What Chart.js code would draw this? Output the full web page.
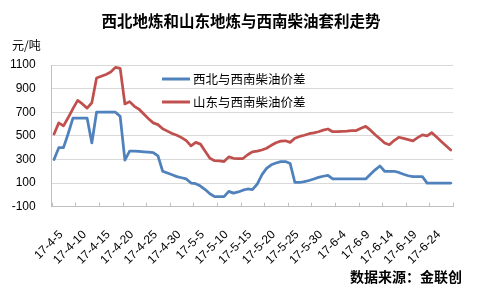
<!DOCTYPE html>
<html><head><meta charset="utf-8">
<script src="https://cdn.jsdelivr.net/npm/chart.js@4"></script>
<style>html,body{margin:0;padding:0;background:#fff}#wrap{width:482px;height:290px}</style>
</head><body><div id="wrap"><canvas id="c" width="482" height="290"></canvas></div>
<script>
const categories = [
 '17-4-5','17-4-6','17-4-7','17-4-8','17-4-9','17-4-10','17-4-11','17-4-12','17-4-13','17-4-14',
 '17-4-15','17-4-16','17-4-17','17-4-18','17-4-19','17-4-20','17-4-21','17-4-22','17-4-23','17-4-24',
 '17-4-25','17-4-26','17-4-27','17-4-28','17-4-29','17-4-30',
 '17-5-1','17-5-2','17-5-3','17-5-4','17-5-5','17-5-6','17-5-7','17-5-8','17-5-9','17-5-10',
 '17-5-11','17-5-12','17-5-13','17-5-14','17-5-15','17-5-16','17-5-17','17-5-18','17-5-19','17-5-20',
 '17-5-21','17-5-22','17-5-23','17-5-24','17-5-25','17-5-26','17-5-27','17-5-28','17-5-29','17-5-30','17-5-31',
 '17-6-1','17-6-2','17-6-3','17-6-4','17-6-5','17-6-6','17-6-7','17-6-8','17-6-9','17-6-10',
 '17-6-11','17-6-12','17-6-13','17-6-14','17-6-15','17-6-16','17-6-17','17-6-18','17-6-19','17-6-20',
 '17-6-21','17-6-22','17-6-23','17-6-24','17-6-25','17-6-26','17-6-27','17-6-28'
];
const seriesNames = ['西北与西南柴油价差', '山东与西南柴油价差'];
const xibei = [
 300,400,400,520,650,650,650,650,440,700,
 700,700,700,700,665,295,370,370,368,365,
 362,358,330,200,185,170,155,145,135,100,
 95,75,45,10,-15,-15,-15,30,15,25,
 40,50,45,90,170,225,255,270,282,282,
 265,105,105,112,122,135,148,158,165,135,
 135,135,135,135,135,135,135,175,212,245,
 200,200,200,190,175,162,155,155,155,100,
 100,100,100,100,100
];
const shandong = [
 515,610,585,655,730,800,770,735,780,990,
 1005,1020,1040,1080,1072,770,790,750,725,685,
 645,610,595,560,540,520,505,485,460,415,
 445,430,370,310,290,288,282,322,310,308,
 308,340,365,370,380,395,420,442,455,458,
 445,480,495,505,518,525,535,548,558,535,
 535,538,540,545,545,565,580,548,510,475,
 440,425,460,488,478,468,458,485,508,500,
 527,490,453,416,380
];
const yTickValues = [-100, 100, 300, 500, 700, 900, 1100];
const titleText = '西北地炼和山东地炼与西南柴油套利走势';
const unitText = '元/吨';
const sourceText = '数据来源：金联创';

const LAT = '"Liberation Sans", "Noto Sans CJK SC", sans-serif';
const CJK = '"Noto Sans CJK SC", "Liberation Sans", sans-serif';
const colors = ['#4f81bd', '#c0504d'];

const deco = {
  id: 'deco',
  afterDraw(chart) {
    const ctx = chart.ctx, a = chart.chartArea, xs = chart.scales.x;
    ctx.save();
    ctx.strokeStyle = '#bfbfbf'; ctx.lineWidth = 1;
    const half = (xs.getPixelForValue(1) - xs.getPixelForValue(0)) / 2;
    for (let i = 0; i <= categories.length; i += 5) {
      const x = Math.round(xs.getPixelForValue(i) - half) + 0.5;
      ctx.beginPath(); ctx.moveTo(x, a.bottom); ctx.lineTo(x, a.bottom - 4); ctx.stroke();
    }
    ctx.fillStyle = '#000';
    ctx.font = 'bold 15.5px ' + CJK;
    ctx.textAlign = 'center'; ctx.textBaseline = 'middle';
    ctx.fillText(titleText, 241, 21);
    ctx.font = '12px ' + CJK;
    ctx.textAlign = 'left';
    ctx.fillText(unitText, 12, 45);
    ctx.font = 'bold 14px ' + CJK;
    ctx.textAlign = 'right';
    ctx.fillText(sourceText, 462, 277);
    const ly = [79, 102];
    ctx.font = '12.5px ' + CJK;
    ctx.textAlign = 'left';
    for (let k = 0; k < 2; k++) {
      ctx.strokeStyle = colors[k]; ctx.lineWidth = 3;
      ctx.beginPath(); ctx.moveTo(162, ly[k]); ctx.lineTo(190, ly[k]); ctx.stroke();
      ctx.fillStyle = '#000';
      ctx.fillText(seriesNames[k], 193, ly[k]);
    }
    ctx.restore();
  }
};

new Chart(document.getElementById('c'), {
  type: 'line',
  data: {
    labels: categories,
    datasets: [
      { label: seriesNames[0], data: xibei, borderColor: colors[0], backgroundColor: colors[0] },
      { label: seriesNames[1], data: shandong, borderColor: colors[1], backgroundColor: colors[1] }
    ]
  },
  options: {
    responsive: false,
    animation: false,
    devicePixelRatio: 1,
    layout: { padding: { top: 65, right: 15, left: 0, bottom: 0 } },
    elements: {
      line: { borderWidth: 2.75, tension: 0, borderJoinStyle: 'round', borderCapStyle: 'round' },
      point: { radius: 0, hoverRadius: 0 }
    },
    plugins: { legend: { display: false }, title: { display: false }, tooltip: { enabled: false } },
    scales: {
      x: {
        type: 'category',
        offset: true,
        grid: { drawOnChartArea: false, drawTicks: false },
        border: { display: true, color: '#bfbfbf' },
        ticks: {
          autoSkip: false, maxRotation: 45, minRotation: 45, padding: 21, labelOffset: 7,
          color: '#000', font: { size: 12, family: LAT },
          callback: (v, i) => (i % 5 === 0 ? categories[i] : '')
        },
        afterFit: s => { s.height = 83.3; }
      },
      y: {
        min: -100, max: 1100,
        afterBuildTicks: s => { s.ticks = yTickValues.map(v => ({ value: v })); },
        grid: { color: '#d9d9d9', drawTicks: false },
        border: { display: true, color: '#bfbfbf' },
        ticks: { padding: 16, color: '#000', font: { size: 12, family: LAT }, callback: v => String(v) },
        afterFit: s => { s.width = 51.7; }
      }
    }
  },
  plugins: [deco]
});
</script>
</body></html>
